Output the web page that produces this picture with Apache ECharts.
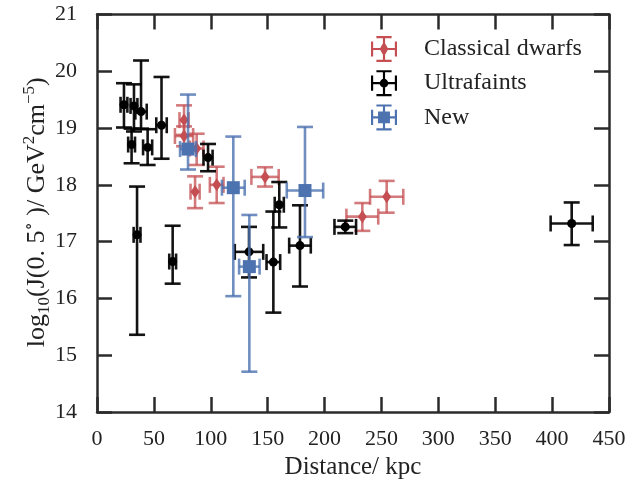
<!DOCTYPE html>
<html>
<head>
<meta charset="utf-8">
<script src="https://cdn.jsdelivr.net/npm/echarts@6/dist/echarts.min.js"></script>
<style>
html, body { margin: 0; padding: 0; background: #fff; }
#main { width: 637px; height: 488px; }
</style>
</head>
<body>
<div id="main"></div>
<script>
'use strict';

// Classical dwarfs
let classicalDist = [76.5, 76.5, 87.6, 86.2, 105.2, 147.7, 233.2, 254.6];
let classicalDistErr = [4, 8, 6, 4, 6, 12, 14, 14.6];
let classicalJ = [19.14, 18.86, 18.64, 17.88, 18.0, 18.14, 17.44, 17.79];
let classicalJUp = [0.26, 0.17, 0.26, 0.27, 0.32, 0.17, 0.24, 0.28];
let classicalJDown = [0.26, 0.18, 0.29, 0.29, 0.32, 0.17, 0.25, 0.28];

// Ultrafaints
let ultraDist = [23.7, 32.5, 38.7, 56.7, 30.4, 44.5, 97.6, 35.2, 66.5, 133.6, 155, 160.2, 178.4, 218.2, 417.2];
let ultraDistErr = [3, 3, 5, 4.6, 3, 4, 4, 3, 3, 12.5, 6, 4, 9.5, 9.5, 18.5];
let ultraJ = [19.41, 19.39, 19.29, 19.05, 18.71, 18.66, 18.48, 17.12, 16.65, 16.82, 16.64, 17.65, 16.93, 17.26, 17.32];
let ultraJUp = [0.38, 0.38, 0.9, 0.85, 0.28, 0.32, 0.24, 0.85, 0.63, 0.44, 0.89, 0.4, 0.71, 0.11, 0.37];
let ultraJDown = [0.4, 0.45, 0.3, 0.59, 0.33, 0.31, 0.24, 1.76, 0.39, 0.45, 0.89, 0.4, 0.72, 0.11, 0.38];

// New
let newDist = [80, 119.8, 133.9, 182.8];
let newDistErr = [7, 10, 9, 16];
let newJ = [18.63, 17.95, 16.56, 17.9];
let newJUp = [0.96, 0.9, 0.91, 1.12];
let newJDown = [0.36, 1.91, 1.85, 0.82];

let xTicks = [0, 450, 50];
let yTicks = [14, 21, 1];

let font = "'Liberation Serif', 'DejaVu Serif', serif";
let axisColor = '#2b2b2b';

function buildData(d, de, j, ju, jd) {
	let out = [];
	for (let i = 0; i < d.length; i++) {
		out.push([d[i], j[i], de[i], ju[i], jd[i]]);
	}
	return out;
}

function makeRender(color, marker, alpha) {
	return function (params, api) {
		let x = api.value(0), y = api.value(1);
		let xe = api.value(2), yu = api.value(3), yd = api.value(4);
		let c = api.coord([x, y]);
		let l = api.coord([x - xe, y]);
		let r = api.coord([x + xe, y]);
		let t = api.coord([x, y + yu]);
		let b = api.coord([x, y - yd]);
		let cap = 8;
		let barStyle = { stroke: color, lineWidth: 2.6, opacity: alpha };
		let children = [
			{ type: 'line', shape: { x1: l[0], y1: l[1], x2: r[0], y2: r[1] }, style: barStyle },
			{ type: 'line', shape: { x1: t[0], y1: t[1], x2: b[0], y2: b[1] }, style: barStyle },
			{ type: 'line', shape: { x1: l[0], y1: l[1] - cap, x2: l[0], y2: l[1] + cap }, style: barStyle },
			{ type: 'line', shape: { x1: r[0], y1: r[1] - cap, x2: r[0], y2: r[1] + cap }, style: barStyle },
			{ type: 'line', shape: { x1: t[0] - cap, y1: t[1], x2: t[0] + cap, y2: t[1] }, style: barStyle },
			{ type: 'line', shape: { x1: b[0] - cap, y1: b[1], x2: b[0] + cap, y2: b[1] }, style: barStyle }
		];
		if (marker === 'diamond') {
			children.push({ type: 'polygon', shape: { points: [[c[0], c[1] - 6.5], [c[0] + 4.5, c[1]], [c[0], c[1] + 6.5], [c[0] - 4.5, c[1]]] }, style: { fill: color } });
		} else if (marker === 'circle') {
			children.push({ type: 'circle', shape: { cx: c[0], cy: c[1], r: 4.5 }, style: { fill: color } });
		} else {
			children.push({ type: 'rect', shape: { x: c[0] - 6.5, y: c[1] - 6.5, width: 13, height: 13 }, style: { fill: color } });
		}
		return { type: 'group', children: children };
	};
}

let bars = 'M0 11 H24 V13 H0 Z M11 0 H13 V24 H11 Z M0 5 H2 V19 H0 Z M22 5 H24 V19 H22 Z M5 0 H19 V2 H5 Z M5 22 H19 V24 H5 Z ';
let iconDiamond = 'path://' + bars + 'M12 5 L16 12 L12 19 L8 12 Z';
let iconCircle = 'path://' + bars + 'M8 12 A4 4 0 1 1 16 12 A4 4 0 1 1 8 12 Z';
let iconSquare = 'path://' + bars + 'M6.5 6.5 H17.5 V17.5 H6.5 Z';

let myChart = echarts.init(document.getElementById('main'));

let tickStyle = { show: true, inside: true, length: 15, lineStyle: { color: axisColor, width: 2.5 } };
let lineStyle = { show: true, onZero: false, lineStyle: { color: axisColor, width: 2.5 } };

let option = {
	animation: false,
	grid: { left: 97, right: 28, top: 14.5, bottom: 76 },
	legend: {
		orient: 'vertical',
		left: 366,
		top: 31,
		itemWidth: 26,
		itemHeight: 26,
		itemGap: 8.2,
		textStyle: { fontFamily: font, fontSize: 24, color: '#222', padding: [0, 0, 0, 22] },
		data: [
			{ name: 'Classical dwarfs', icon: iconDiamond },
			{ name: 'Ultrafaints', icon: iconCircle },
			{ name: 'New', icon: iconSquare }
		]
	},
	xAxis: [{
		type: 'value',
		min: xTicks[0],
		max: xTicks[1],
		interval: xTicks[2],
		name: 'Distance/ kpc',
		nameLocation: 'middle',
		nameGap: 43,
		nameTextStyle: { fontFamily: font, fontSize: 25, color: '#222' },
		axisLine: lineStyle,
		axisTick: tickStyle,
		axisLabel: { fontFamily: font, fontSize: 22, color: '#222', margin: 16 },
		splitLine: { show: false }
	}, {
		type: 'value',
		position: 'top',
		min: xTicks[0],
		max: xTicks[1],
		interval: xTicks[2],
		axisLine: lineStyle,
		axisTick: tickStyle,
		axisLabel: { show: false },
		splitLine: { show: false }
	}],
	yAxis: [{
		type: 'value',
		min: yTicks[0],
		max: yTicks[1],
		interval: yTicks[2],
		name: '{a|log}{sub|10}{a|(J(0. 5}{sup|∘}{a| )/ GeV}{sup|2}{a|cm}{sup|−5}{a|)}',
		nameLocation: 'middle',
		nameGap: 44,
		nameMoveOverlap: false,
		nameTextStyle: {
			fontFamily: font, fontSize: 26, color: '#222',
			padding: [0, 0, 0, 2],
			rich: {
				a: { fontFamily: font, fontSize: 26, color: '#222', lineHeight: 32, verticalAlign: 'middle' },
				sub: { fontFamily: font, fontSize: 17, color: '#222', verticalAlign: 'bottom', lineHeight: 32 },
				sup: { fontFamily: font, fontSize: 17, color: '#222', verticalAlign: 'top', lineHeight: 32 }
			}
		},
		axisLine: lineStyle,
		axisTick: tickStyle,
		axisLabel: { fontFamily: font, fontSize: 22, color: '#222', margin: 20 },
		splitLine: { show: false }
	}, {
		type: 'value',
		position: 'right',
		min: yTicks[0],
		max: yTicks[1],
		interval: yTicks[2],
		axisLine: lineStyle,
		axisTick: tickStyle,
		axisLabel: { show: false },
		splitLine: { show: false }
	}],
	series: [{
		name: 'Classical dwarfs',
		type: 'custom',
		itemStyle: { color: '#C44E52' },
		renderItem: makeRender('#C44E52', 'diamond', 0.75),
		data: buildData(classicalDist, classicalDistErr, classicalJ, classicalJUp, classicalJDown),
		z: 2
	}, {
		name: 'Ultrafaints',
		type: 'custom',
		itemStyle: { color: '#000000' },
		renderItem: makeRender('#000000', 'circle', 0.92),
		data: buildData(ultraDist, ultraDistErr, ultraJ, ultraJUp, ultraJDown),
		z: 3
	}, {
		name: 'New',
		type: 'custom',
		itemStyle: { color: '#4C72B0' },
		renderItem: makeRender('#4C72B0', 'square', 0.8),
		data: buildData(newDist, newDistErr, newJ, newJUp, newJDown),
		z: 4
	}]
};
myChart.setOption(option);
</script>
</body>
</html>
